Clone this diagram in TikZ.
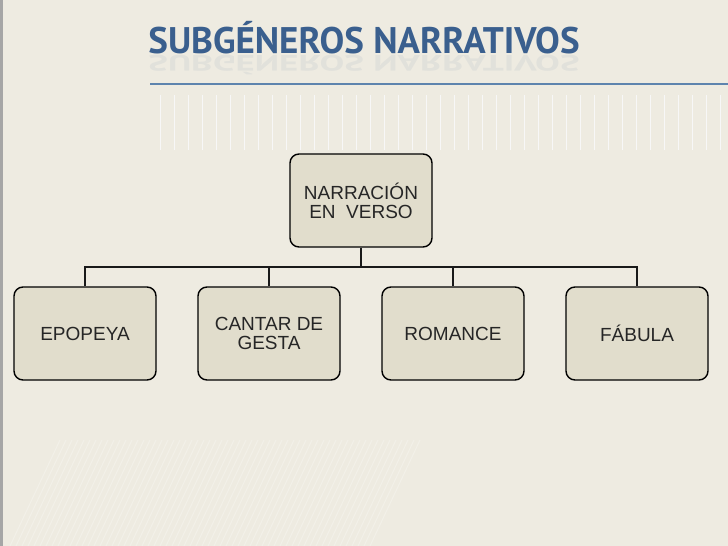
\documentclass[tikz,border=0pt]{standalone}
\usepackage{fontspec}
\setmainfont{Liberation Sans}
\newfontfamily\titlefont{PT Sans}
\begin{document}
\begin{tikzpicture}[x=1pt,y=-1pt,
  box/.style={draw=black, line width=1.4pt, rounded corners=9pt, fill=boxfill,
    minimum width=142pt, minimum height=93pt, align=center, inner sep=2pt,
    font=\fontsize{19}{19}\selectfont, text=black!85},
  bus/.style={draw=black!90, line width=1.4pt},
  ttl/.style={text=titleblue, font=\titlefont\bfseries\fontsize{37}{40}\selectfont}]
\definecolor{bg}{HTML}{EEEBE1}
\definecolor{boxfill}{HTML}{E1DDCC}
\definecolor{titleblue}{HTML}{3A5F8E}
\definecolor{rule}{HTML}{5E84AE}
\useasboundingbox (0,0) rectangle (728,546);
\fill[bg] (0,0) rectangle (728,546);
\fill[black!35] (0,0) rectangle (3,546);
\foreach \i in {0,...,60} {
  \draw[white, opacity=0.25, line width=1pt] (10+\i*6,546) -- (60+\i*6,440);
}
\foreach \i in {0,...,40} {
  \draw[black!3, line width=0.6pt] (160+\i*14,95) -- (160+\i*14,150);
}
% title
\node[anchor=base, ttl] (title) at (364,53) {SUBGÉNEROS NARRATIVOS};
\node[anchor=base, ttl, opacity=0.07, yscale=-0.6] (refl) at (364,55) {SUBGÉNEROS NARRATIVOS};
\draw[rule, line width=2pt] (150,84) -- (728,84);
% nodes
\node[box] (top) at (361,200.5) {NARRACIÓN\\EN\ \ VERSO};
\node[box] (a) at (85,333.5) {EPOPEYA};
\node[box] (b) at (269,333.5) {CANTAR DE\\GESTA};
\node[box] (c) at (453,333.5) {ROMANCE};
\node[box] (d) at (637,333.5) {FÁBULA};
\coordinate (j) at (361,267);
\draw[bus] (top.south) -- (j);
\draw[bus] (a.north) |- (j) -| (d.north);
\draw[bus] (b.north) -- (b.north |- j);
\draw[bus] (c.north) -- (c.north |- j);
\end{tikzpicture}
\end{document}
